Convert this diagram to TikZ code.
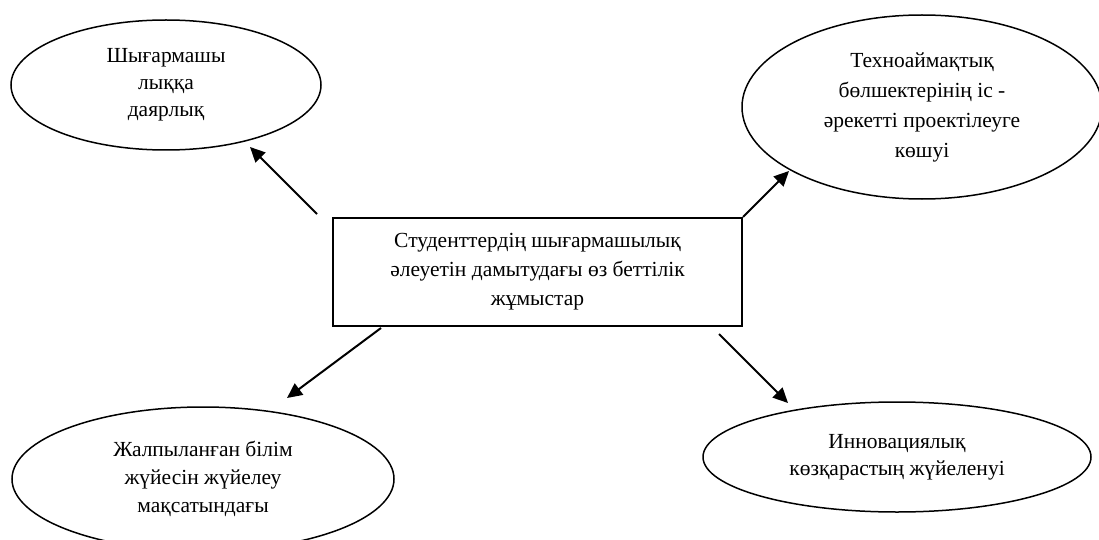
\documentclass[tikz,border=0pt]{standalone}
\usepackage{fontspec}
\setmainfont{Liberation Serif}
\usetikzlibrary{shapes.geometric,calc,arrows.meta}

\begin{document}
\begin{tikzpicture}[x=1pt, y=-1pt, >={Triangle[length=15pt, width=14pt]}]
    \tikzset{
        a/.style={->, line width=2pt},
        el/.style={draw, ellipse, line width=1.5pt, inner sep=0pt, align=center, font=\fontsize{21.5}{27}\selectfont},
        box/.style={draw, rectangle, line width=2pt, minimum width=409pt, minimum height=108pt, align=center, font=\fontsize{21.5}{29}\selectfont}
    }
    \useasboundingbox (0,0) rectangle (1099,540);

    \node [box] (main) at (537.5,272) {Студенттердің шығармашылық\\әлеуетін дамытудағы өз беттілік\\жұмыстар};

    \node [el, minimum width=310pt, minimum height=130pt] (tl) at ($(main)+(-371.5,-187)$) {Шығармашы\\лыққа\\даярлық};
    \node [el, minimum width=360pt, minimum height=184pt, font=\fontsize{21.5}{30}\selectfont] (tr) at ($(main)+(384.5,-165)$) {Техноаймақтық\\бөлшектерінің іс -\\әрекетті проектілеуге\\көшуі};
    \node [el, minimum width=382pt, minimum height=144pt, font=\fontsize{21.5}{28}\selectfont] (bl) at ($(main)+(-334.5,207)$) {Жалпыланған білім\\жүйесін жүйелеу\\мақсатындағы};
    \node [el, minimum width=388pt, minimum height=110pt] (br) at ($(main)+(359.5,185)$) {Инновациялық\\көзқарастың жүйеленуі};

    % arrows out of the box
    \draw [a] ($(main.north west)+(-15,-3)$) -- ($(tl)+(84,62)$);
    \draw [a] (main.north east) -- ($(tr)+(-133,64)$);
    \draw [a] ($(main.south west)+(49,1)$) -- ($(bl)+(84,-81)$);
    \draw [a] ($(main.south east)+(-24,7)$) -- ($(br)+(-109,-54)$);
\end{tikzpicture}
\end{document}
